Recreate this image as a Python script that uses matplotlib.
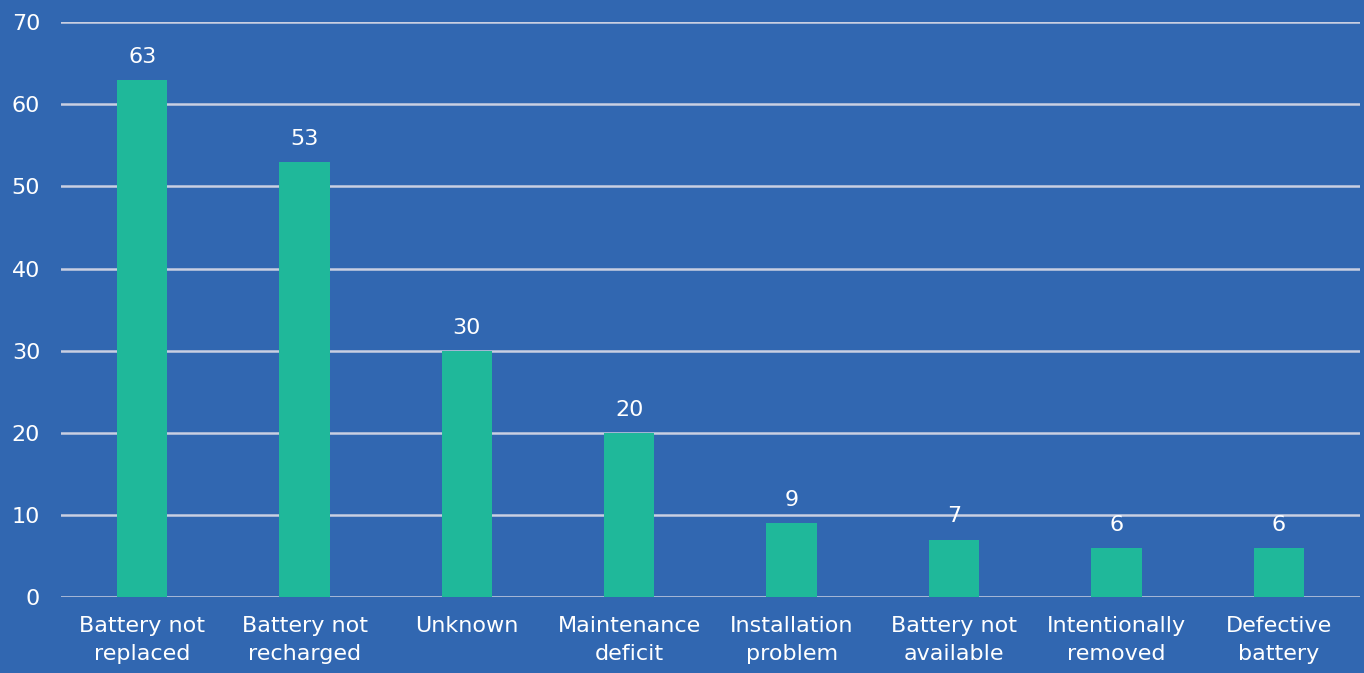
import numpy as np
import matplotlib.pyplot as plt

categories = ['Battery not\nreplaced', 'Battery not\nrecharged', 'Unknown',
              'Maintenance\ndeficit', 'Installation\nproblem', 'Battery not\navailable',
              'Intentionally\nremoved', 'Defective\nbattery']
counts = [63, 53, 30, 20, 9, 7, 6, 6]
yticks = [0, 10, 20, 30, 40, 50, 60, 70]

bg = '#3167b1'
bar_color = '#1fb89a'
grid_color = '#c9cfe2'

plt.rcParams['font.family'] = ['DejaVu Sans']

fig = plt.figure(figsize=(13.64, 6.73), dpi=100, facecolor=bg)
ax = fig.add_axes([0.0447, 0.1129, 0.9523, 0.8541])
ax.set_facecolor(bg)

x = np.arange(len(categories))
ax.bar(x, counts, width=0.31, color=bar_color, zorder=3)

for xi, v in zip(x, counts):
    ax.text(xi, v + 1.6, str(v), ha='center', va='bottom', color='white', fontsize=16)

ax.set_xlim(-0.5, len(categories) - 0.5)
ax.set_ylim(0, 70)
ax.set_yticks(yticks)
ax.set_xticks(x)
ax.set_xticklabels(categories, fontsize=16, color='white', linespacing=1.5)
ax.tick_params(axis='y', colors='white', labelsize=16, length=0, pad=15)
ax.tick_params(axis='x', length=0, pad=14)
ax.grid(axis='y', color=grid_color, linewidth=1.8, zorder=0)
ax.set_axisbelow(True)
for s in ax.spines.values():
    s.set_visible(False)

fig.savefig('out.png', dpi=100, facecolor=bg)
